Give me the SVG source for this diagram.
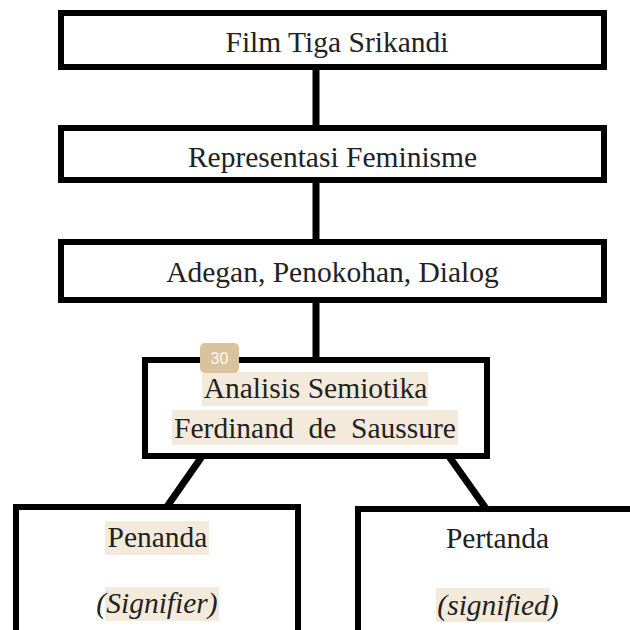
<svg xmlns="http://www.w3.org/2000/svg" width="630" height="630" viewBox="0 0 630 630">
  <style>
    .box { fill: #ffffff; stroke: #000000; stroke-width: 6; }
    .hl { fill: #f3eadc; }
    .conn { stroke: #000000; stroke-width: 7; fill: none; }
  </style>
  <rect width="630" height="630" fill="#ffffff"/>
  <g id="connectors">
    <line class="conn" x1="316" y1="66" x2="316" y2="129"/>
    <line class="conn" x1="316" y1="180" x2="316" y2="243"/>
    <line class="conn" x1="316" y1="299" x2="316" y2="361"/>
    <line class="conn" x1="203" y1="455" x2="166" y2="508"/>
    <line class="conn" x1="448" y1="455" x2="487" y2="510"/>
  </g>
  <g font-family="Liberation Serif" font-size="29.5" fill="#222222" text-anchor="middle">
  <g id="film">
    <rect class="box" x="61" y="13" width="543" height="54"/>
    <text x="337" y="52">Film Tiga Srikandi</text>
  </g>
  <g id="representasi">
    <rect class="box" x="61" y="128" width="543" height="52"/>
    <text x="332.5" y="167">Representasi Feminisme</text>
  </g>
  <g id="adegan">
    <rect class="box" x="61" y="242" width="543" height="58"/>
    <text x="332.5" y="282">Adegan, Penokohan, Dialog</text>
  </g>
  <g id="analisis">
    <rect class="box" x="145" y="360" width="342" height="96"/>
    <rect class="hl" x="202" y="372" width="226" height="34"/>
    <rect class="hl" x="172" y="410" width="286" height="35"/>
    <text x="315.5" y="398">Analisis Semiotika</text>
    <text x="315" y="438" xml:space="preserve">Ferdinand  de  Saussure</text>
    <rect x="200" y="343" width="39" height="30" rx="5" fill="#d8c39d"/>
    <text x="219.5" y="364" font-family="Liberation Sans" font-size="16" fill="#fbf6ee">30</text>
  </g>
  <g id="penanda">
    <rect class="box" x="16" y="507" width="282" height="140"/>
    <rect class="hl" x="105" y="521" width="104" height="34"/>
    <rect class="hl" x="105" y="587" width="114" height="34"/>
    <text x="157.5" y="547">Penanda</text>
    <text x="157" y="613" font-style="italic">(Signifier)</text>
  </g>
  <g id="pertanda">
    <rect class="box" x="358" y="509" width="300" height="140"/>
    <rect class="hl" x="436" y="588" width="114" height="34"/>
    <text x="497.5" y="548">Pertanda</text>
    <text x="498" y="615" font-style="italic">(signified)</text>
  </g>
  </g>
</svg>
